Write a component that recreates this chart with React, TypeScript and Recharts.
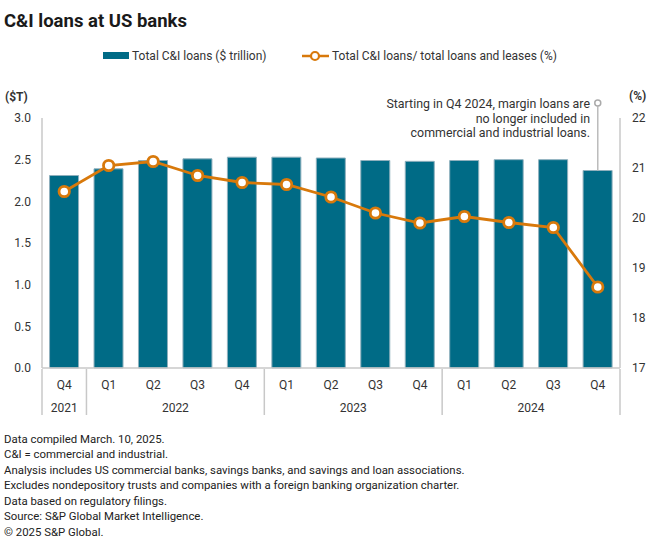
import React from "react";
import {
  ComposedChart,
  Bar,
  Line,
  XAxis,
  YAxis,
  ReferenceLine,
  ReferenceDot,
} from "recharts";

const quarters = [
  "Q4 2021",
  "Q1 2022",
  "Q2 2022",
  "Q3 2022",
  "Q4 2022",
  "Q1 2023",
  "Q2 2023",
  "Q3 2023",
  "Q4 2023",
  "Q1 2024",
  "Q2 2024",
  "Q3 2024",
  "Q4 2024",
];
const loans = [2.31, 2.39, 2.49, 2.51, 2.53, 2.53, 2.52, 2.49, 2.48, 2.49, 2.5, 2.5, 2.37];
const ratio = [20.53, 21.05, 21.13, 20.85, 20.71, 20.67, 20.42, 20.1, 19.9, 20.03, 19.91, 19.81, 18.62];
const leftTicks = [0, 0.5, 1, 1.5, 2, 2.5, 3];
const rightTicks = [17, 18, 19, 20, 21, 22];
// year groups on a numeric axis spanning the 13 categories
const yearLabels: Record<string, string> = { "0.5": "2021", "3": "2022", "7": "2023", "11": "2024" };
const yearBoundaries = [0, 1, 5, 9, 13];
const yearTicks = [0, 0.5, 1, 3, 5, 7, 9, 11, 13];

const footnotes = [
  "Data compiled March. 10, 2025.",
  "C&I = commercial and industrial.",
  "Analysis includes US commercial banks, savings banks, and savings and loan associations.",
  "Excludes nondepository trusts and companies with a foreign banking organization charter.",
  "Data based on regulatory filings.",
  "Source: S&P Global Market Intelligence.",
  "© 2025 S&P Global.",
];

const annotation = [
  "Starting in Q4 2024, margin loans are",
  "no longer included in",
  "commercial and industrial loans.",
];

const data = quarters.map((q, i) => ({
  key: q,
  pos: i + 0.5,
  loans: loans[i],
  ratio: ratio[i],
}));

const BAR = "#006B86";
const ORANGE = "#D8790B";
const AXIS = "#c8c8c8";
const TXT = "#333";
const FONT = "Roboto, 'Liberation Sans', sans-serif";

const YearTick = (props: any) => {
  const { x, y, payload } = props;
  const v = payload.value;
  if (yearBoundaries.includes(v)) {
    return <line x1={x} x2={x} y1={y - 26} y2={y + 20} stroke={AXIS} strokeWidth={1.5} />;
  }
  const label = yearLabels[String(v)];
  return (
    <text x={x} y={y + 17} textAnchor="middle" fontSize={12} fill={TXT} fontFamily={FONT}>
      {label}
    </text>
  );
};

export default function App() {
  return (
    <div
      style={{
        position: "absolute",
        left: 0,
        top: 0,
        width: 660,
        height: 549,
        background: "#fff",
        fontFamily: FONT,
        color: TXT,
      }}
    >
      <div
        style={{
          position: "absolute",
          left: 4,
          top: 10,
          fontSize: 18.5,
          lineHeight: "22px",
          fontWeight: 700,
          color: "#1a1a1a",
        }}
      >
        C&amp;I loans at US banks
      </div>

      {/* legend */}
      <div style={{ position: "absolute", left: 103, top: 49, height: 14, fontSize: 12, lineHeight: "14px", whiteSpace: "nowrap" }}>
        <span style={{ display: "inline-block", width: 26, height: 7, background: BAR, verticalAlign: "middle", marginRight: 3, position: "relative", top: -1 }} />
        <span>Total C&amp;I loans ($ trillion)</span>
      </div>
      <div style={{ position: "absolute", left: 302, top: 49, height: 14, fontSize: 12, lineHeight: "14px", whiteSpace: "nowrap" }}>
        <svg width={27} height={14} style={{ verticalAlign: "top", marginRight: 3 }}>
          <line x1={0} x2={27} y1={7} y2={7} stroke={ORANGE} strokeWidth={2.5} />
          <circle cx={13} cy={7} r={4} fill="#fff" stroke={ORANGE} strokeWidth={2.2} />
        </svg>
        <span>Total C&amp;I loans/ total loans and leases (%)</span>
      </div>

      <div style={{ position: "absolute", left: 5, top: 89, fontSize: 12, lineHeight: "16px", fontWeight: 700 }}>($T)</div>
      <div style={{ position: "absolute", left: 629, top: 88, fontSize: 12, lineHeight: "16px", fontWeight: 700 }}>(%)</div>

      <div style={{ position: "absolute", left: 0, top: 0 }}>
        <ComposedChart
          width={660}
          height={420}
          data={data}
          margin={{ top: 118, right: 0, bottom: 0, left: 0 }}
          barCategoryGap="17%"
        >
          <XAxis
            xAxisId="q"
            dataKey="key"
            height={27}
            tickFormatter={(k: string) => k.split(" ")[0]}
            axisLine={{ stroke: AXIS, strokeWidth: 1.5 }}
            tickLine={false}
            tickSize={6}
            tickMargin={6}
            tick={{ fontSize: 12, fill: TXT, fontFamily: FONT }}
            interval={0}
          />
          <XAxis
            xAxisId="yr"
            dataKey="pos"
            type="number"
            domain={[0, 13]}
            allowDataOverflow
            ticks={yearTicks}
            interval={0}
            height={25}
            axisLine={false}
            tickLine={false}
            tickSize={0}
            tickMargin={0}
            tick={<YearTick />}
          />
          <YAxis
            yAxisId="left"
            width={42}
            domain={[0, 3]}
            ticks={leftTicks}
            interval={0}
            tickFormatter={(v: number) => v.toFixed(1)}
            axisLine={{ stroke: AXIS, strokeWidth: 1.5 }}
            tickLine={false}
            tickSize={0}
            tickMargin={11}
            tick={{ fontSize: 12, fill: TXT, fontFamily: FONT }}
          />
          <YAxis
            yAxisId="right"
            orientation="right"
            width={40}
            domain={[17, 22]}
            ticks={rightTicks}
            interval={0}
            axisLine={{ stroke: AXIS, strokeWidth: 1.5 }}
            tickLine={false}
            tickSize={0}
            tickMargin={12}
            tick={{ fontSize: 12, fill: TXT, fontFamily: FONT, textAnchor: "start" }}
          />
          <Bar
            xAxisId="q"
            yAxisId="left"
            dataKey="loans"
            fill={BAR}
            stroke="#8fb0bd"
            strokeWidth={1}
            isAnimationActive={false}
          />
          <Line
            xAxisId="q"
            yAxisId="right"
            dataKey="ratio"
            stroke={ORANGE}
            strokeWidth={2.8}
            dot={{ r: 5.2, fill: "#fff", stroke: ORANGE, strokeWidth: 2.8 }}
            activeDot={false}
            isAnimationActive={false}
          />
          <ReferenceLine
            xAxisId="q"
            yAxisId="left"
            segment={[
              { x: "Q4 2024", y: loans[12] },
              { x: "Q4 2024", y: 3.14 },
            ]}
            stroke="#bbb"
            strokeWidth={1.5}
            ifOverflow="visible"
          />
          <ReferenceDot
            xAxisId="q"
            yAxisId="left"
            x="Q4 2024"
            y={3.18}
            r={3}
            fill="#fff"
            stroke="#aaa"
            strokeWidth={1.5}
            ifOverflow="visible"
          />
        </ComposedChart>
      </div>

      <div
        style={{
          position: "absolute",
          left: 0,
          width: 590,
          top: 97,
          textAlign: "right",
          fontSize: 12.4,
          lineHeight: "14.5px",
        }}
      >
        {annotation.map((t, i) => (
          <div key={i}>{t}</div>
        ))}
      </div>

      <div style={{ position: "absolute", left: 4, top: 431.5, fontSize: 11.4, lineHeight: "15.6px", color: "#222" }}>
        {footnotes.map((t, i) => (
          <div key={i} style={{ whiteSpace: "nowrap" }}>{t}</div>
        ))}
      </div>
    </div>
  );
}
